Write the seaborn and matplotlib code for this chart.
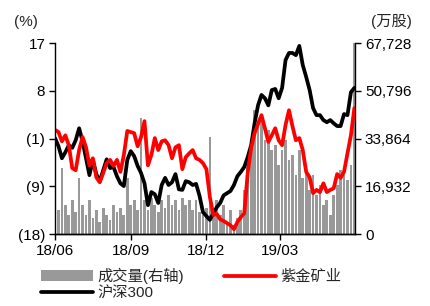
import numpy as np
import pandas as pd
import matplotlib
matplotlib.use("Agg")
import matplotlib.pyplot as plt
import matplotlib.dates as mdates
import matplotlib.ticker as mticker
import seaborn as sns

# data (every ~3 trading days, Jun 2018 - May 2019)
hs300 = [-0.4, -1.9, -4.1, -3.0, -1.7, -2.2, -0.8, 1.4, -1.0, -4.1,
         -7.2, -4.4, -7.0, -8.3, -6.3, -4.3, -5.9, -5.7, -7.4, -8.7,
         -9.2, -4.4, -2.8, -3.7, -5.5, -6.8, -8.7, -12.7, -10.3, -10.7,
         -12.3, -9.0, -7.7, -9.0, -8.5, -7.0, -9.8, -9.9, -8.3, -8.5,
         -9.0, -8.8, -11.0, -14.0, -14.7, -15.4, -14.2, -13.1, -12.3, -10.9,
         -10.5, -10.1, -9.0, -7.4, -6.6, -5.7, -3.9, -1.7, 2.3, 5.6,
         7.5, 6.9, 5.6, 8.4, 8.6, 6.9, 8.8, 13.9, 15.2, 15.2,
         14.8, 16.5, 13.0, 10.8, 8.4, 5.1, 3.8, 3.8, 2.9, 2.5,
         2.9, 2.3, 1.8, 1.8, 4.0, 3.8, 8.0, 8.8]
zijin = [1.1, 0.7, -1.0, 0.1, -1.7, -5.9, -6.3, -2.6, -0.2, -2.1,
         -5.4, -4.1, -7.6, -8.5, -6.8, -5.0, -4.4, -5.5, -4.4, -6.6,
         -3.5, 0.9, 0.7, 0.5, -1.9, -0.2, 2.7, -5.4, -3.5, -0.4,
         -2.6, -1.0, -0.8, -1.7, -4.1, -2.1, -1.7, -6.1, -3.9, -3.2,
         -2.6, -4.1, -4.4, -5.0, -6.1, -11.2, -14.5, -14.3, -15.3, -15.6,
         -16.0, -16.4, -17.1, -15.8, -14.9, -14.2, -6.8, -2.2, 0.5, 2.2,
         3.8, 1.4, -1.1, 0.1, 1.4, -0.8, -1.7, 2.0, 4.7, 1.8,
         -0.8, -0.4, -2.6, -6.6, -7.6, -10.5, -9.9, -10.3, -8.7, -10.3,
         -9.9, -9.6, -7.0, -7.7, -6.6, -3.2, 0.1, 5.1]
volume = [10300, 8500, 23400, 10300, 6700, 12100, 7800, 19900, 10300, 6700,
          12100, 5700, 8500, 4300, 9200, 6700, 5000, 10300, 7800, 9200,
          6700, 19900, 10300, 12100, 8500, 41100, 12100, 8500, 12800, 10300,
          7800, 12100, 9200, 13800, 10300, 12100, 8500, 12800, 10300, 12100,
          8500, 12100, 7800, 6700, 9200, 34400, 8500, 12100, 6700, 10300,
          4300, 8500, 3200, 5700, 8500, 15600, 26200, 33300, 44000, 38700,
          42200, 33300, 36900, 29800, 31600, 24500, 29800, 33300, 26200, 28000,
          20900, 29800, 19900, 22700, 15600, 20900, 13800, 17400, 10300, 12100,
          6700, 13800, 17400, 22700, 20900, 19100, 24500, 67700]
dates = pd.date_range("2018-06-01", "2019-05-31", periods=len(hs300))

x_ticks = pd.to_datetime(["2018-06-01", "2018-09-01", "2018-12-01", "2019-03-01"])
left_ticks = ["(18)", "(9)", "(1)", "8", "17"]
right_max = 67728

df = pd.DataFrame({"date": dates, "hs300": hs300, "zijin": zijin, "volume": volume})

sns.set_style("ticks")
plt.rcParams["font.family"] = ["Liberation Sans", "Noto Sans CJK SC", "DejaVu Sans"]

fig = plt.figure(figsize=(4.3, 3.06), dpi=100)
ax = fig.add_axes([0.128, 0.235, 0.698, 0.624])
ax2 = ax.twinx()

# volume bars on the right axis
ax2.bar(df["date"], df["volume"], width=3.3, color="#999999", linewidth=0,
        label="成交量(右轴)")
ax2.set_ylim(0, right_max)
ax2.set_yticks(np.linspace(0, right_max, 5))
ax2.yaxis.set_major_formatter(mticker.StrMethodFormatter("{x:,.0f}"))

# lines on the left axis, drawn above the bars
ax.set_zorder(ax2.get_zorder() + 1)
ax.patch.set_visible(False)
sns.lineplot(data=df, x="date", y="hs300", ax=ax, color="black", linewidth=2.7,
             label="沪深300")
sns.lineplot(data=df, x="date", y="zijin", ax=ax, color="#ff0000", linewidth=2.7,
             label="紫金矿业")
ax.set_ylim(-18, 17)
ax.set_yticks(np.linspace(-18, 17, 5))
ax.set_yticklabels(left_ticks)
ax.set_xlim(pd.Timestamp("2018-06-01"), pd.Timestamp("2019-06-01"))
ax.set_xticks(x_ticks)
ax.xaxis.set_major_formatter(mdates.DateFormatter("%y/%m"))
ax.set_xlabel("")
ax.set_ylabel("")

for a in (ax, ax2):
    a.spines["top"].set_visible(False)
    for s in ("left", "right", "bottom"):
        a.spines[s].set_color("black")
        a.spines[s].set_linewidth(1.0)
    a.tick_params(labelsize=11, length=4, width=1, colors="black", pad=3)
ax.spines["right"].set_visible(False)
ax2.spines["left"].set_visible(False)

fig.text(0.033, 0.915, "(%)", fontsize=11)
fig.text(0.862, 0.915, "(万股)", fontsize=11)

# legend
ax.get_legend().remove()
h1, l1 = ax.get_legend_handles_labels()
h2, l2 = ax2.get_legend_handles_labels()
handles = [h2[0], h1[0], h1[1]]
labels = [l2[0], l1[0], l1[1]]
fig.legend(handles, labels, loc="upper left", bbox_to_anchor=(0.095, 0.125),
           ncol=2, frameon=False, fontsize=11, handlelength=3.4,
           handletextpad=0.3, columnspacing=2.6, labelspacing=0.15,
           borderpad=0, borderaxespad=0)

fig.savefig("out.png", dpi=100)
plt.close(fig)
